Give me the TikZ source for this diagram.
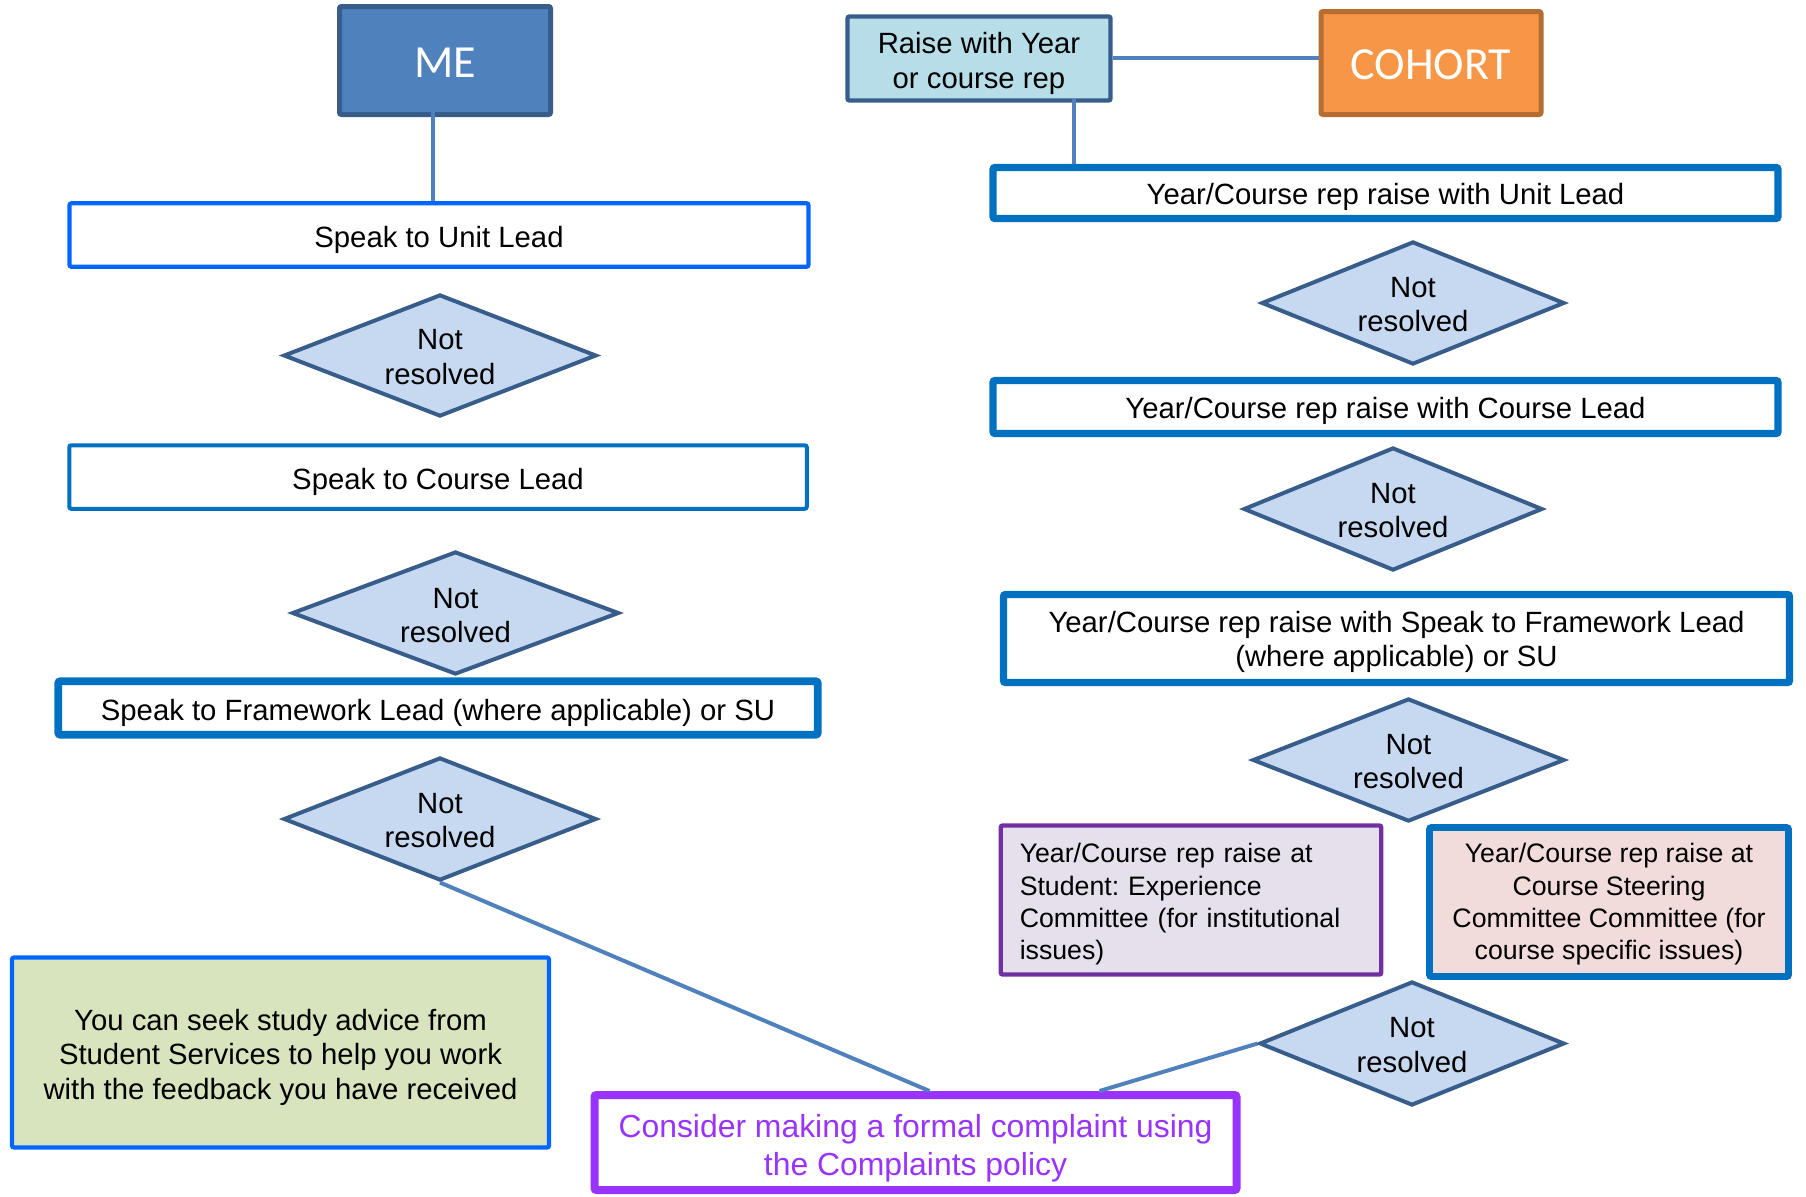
\documentclass[tikz,border=0pt]{standalone}
\usepackage{fontspec}
\setmainfont{Liberation Sans}
\newfontfamily\calibri{Carlito}
\usetikzlibrary{shapes.geometric}
\frenchspacing
\newcommand{\pxsize}{0.5pt}
\newcommand{\lift}[1]{\rule{0pt}{#1}}
\definecolor{meblue}{HTML}{4F81BD}
\definecolor{edgeblue}{HTML}{385D8A}
\definecolor{repfill}{HTML}{B7DEE8}
\definecolor{cohortfill}{HTML}{F79646}
\definecolor{cohortedge}{HTML}{B66D31}
\definecolor{brightblue}{HTML}{0066FF}
\definecolor{leadblue}{HTML}{0070C0}
\definecolor{notfill}{HTML}{C6D9F1}
\definecolor{advicefill}{HTML}{D7E4BD}
\definecolor{complaintpurple}{HTML}{9933FF}
\definecolor{sefill}{HTML}{E6E0EC}
\definecolor{seedge}{HTML}{7030A0}
\definecolor{steerfill}{HTML}{F2DCDB}

\begin{document}
\begin{tikzpicture}
\useasboundingbox (0,0) rectangle (1806*\pxsize,-1196*\pxsize);
\tikzstyle{every node}=[align=center,
			inner sep=0pt,
			font=\fontsize{14.65}{17.25}\selectfont
			]
\tikzstyle{headbox}=[draw, rectangle, rounded corners=1pt, line width=2.5pt,
			font=\calibri\fontsize{23}{26}\selectfont, text=white]
\tikzstyle{stepbox}=[draw, rectangle, rounded corners=1pt, fill=white]
\tikzstyle{notres}=[draw=edgeblue, fill=notfill, diamond, aspect=2.6, line width=2pt]
\tikzstyle{link}=[draw=meblue, line width=2pt]

% left column (ME)
\node[headbox, fill=meblue, draw=edgeblue, minimum width=211*\pxsize, minimum height=108*\pxsize] (me) at (445*\pxsize,-60.5*\pxsize) {\lift{17pt}ME};

\node[stepbox, draw=brightblue, line width=2.1pt, minimum width=739*\pxsize, minimum height=63.5*\pxsize] (unitL) at (439*\pxsize,-235*\pxsize) {\lift{15.3pt}Speak to Unit Lead};

\node[notres, minimum width=313*\pxsize, minimum height=122*\pxsize] (nrL1) at (440*\pxsize,-355.5*\pxsize) {\lift{11.8pt}Not\\resolved};

\node[stepbox, draw=leadblue, line width=2pt, minimum width=737.5*\pxsize, minimum height=63.5*\pxsize] (courseL) at (438*\pxsize,-477*\pxsize) {\lift{15.3pt}Speak to Course Lead};

\node[notres, minimum width=327*\pxsize, minimum height=123*\pxsize] (nrL2) at (455.5*\pxsize,-613*\pxsize) {\lift{12.8pt}Not\\resolved};

\node[stepbox, draw=leadblue, line width=3.8pt, minimum width=759.5*\pxsize, minimum height=53.5*\pxsize] (frameL) at (438*\pxsize,-708*\pxsize) {\lift{15.3pt}Speak to Framework Lead (where applicable) or SU};

\node[notres, minimum width=313*\pxsize, minimum height=123*\pxsize] (nrL3) at (440*\pxsize,-819*\pxsize) {\lift{11.8pt}Not\\resolved};

\node[stepbox, draw=brightblue, fill=advicefill, line width=2.1pt, minimum width=537*\pxsize, minimum height=190*\pxsize] (advice) at (280.5*\pxsize,-1052.5*\pxsize) {\lift{15.3pt}You can seek study advice from\\Student Services to help you work\\with the feedback you have received};

\node[stepbox, draw=complaintpurple, text=complaintpurple, line width=4pt, font=\fontsize{15.95}{19}\selectfont, minimum width=642*\pxsize, minimum height=95*\pxsize] (complaint) at (915.5*\pxsize,-1142.5*\pxsize) {\lift{17.4pt}Consider making a formal complaint using\\the Complaints policy};

% right column (COHORT)
\node[stepbox, draw=edgeblue, fill=repfill, line width=2.2pt, minimum width=263*\pxsize, minimum height=84*\pxsize] (rep) at (979*\pxsize,-58.5*\pxsize) {\lift{15.3pt}Raise with Year\\or course rep};

\node[headbox, fill=cohortfill, draw=cohortedge, minimum width=220*\pxsize, minimum height=103*\pxsize] (cohort) at (1431*\pxsize,-63*\pxsize) {\lift{17pt}COHORT};

\node[stepbox, draw=leadblue, line width=3.6pt, minimum width=785*\pxsize, minimum height=51*\pxsize] (unitR) at (1385.5*\pxsize,-193*\pxsize) {\lift{14.8pt}Year/Course rep raise with Unit Lead};

\node[notres, minimum width=303*\pxsize, minimum height=123*\pxsize] (nrR1) at (1413*\pxsize,-303*\pxsize) {\lift{11.8pt}Not\\resolved};

\node[stepbox, draw=leadblue, line width=3.6pt, minimum width=785*\pxsize, minimum height=53*\pxsize] (courseR) at (1385.5*\pxsize,-407*\pxsize) {\lift{14.8pt}Year/Course rep raise with Course Lead};

\node[notres, minimum width=299*\pxsize, minimum height=123*\pxsize] (nrR2) at (1393*\pxsize,-509*\pxsize) {\lift{11.8pt}Not\\resolved};

\node[stepbox, draw=leadblue, line width=3.6pt, minimum width=786*\pxsize, minimum height=88*\pxsize] (frameR) at (1396.5*\pxsize,-638.5*\pxsize) {\lift{14.2pt}Year/Course rep raise with Speak to Framework Lead\\(where applicable) or SU};

\node[notres, minimum width=312*\pxsize, minimum height=123*\pxsize] (nrR3) at (1408.5*\pxsize,-760*\pxsize) {\lift{11.8pt}Not\\resolved};

\node[stepbox, draw=seedge, fill=sefill, line width=2.2pt, align=left, inner xsep=9.5pt, text width=171.25pt, font=\fontsize{13.35}{16.1}\selectfont, minimum height=149*\pxsize] (experience) at (1191*\pxsize,-900*\pxsize) {\lift{13.9pt}Year/Course rep raise at\\Student: Experience\\Committee (for institutional\\issues)};

\node[stepbox, draw=leadblue, fill=steerfill, line width=3.4pt, font=\fontsize{13.35}{16.1}\selectfont, minimum width=359*\pxsize, minimum height=149*\pxsize] (steering) at (1609*\pxsize,-902*\pxsize) {\lift{12pt}Year/Course rep raise at\\Course Steering\\Committee Committee (for\\course specific issues)};

\node[notres, minimum width=305*\pxsize, minimum height=124*\pxsize] (nrR4) at (1412*\pxsize,-1043.5*\pxsize) {\lift{11.8pt}Not\\resolved};

% connectors
\coordinate (mefoot) at (432.5*\pxsize,-87*\pxsize);
\coordinate (repfoot) at (1073.5*\pxsize,-99*\pxsize);
\draw[link] (mefoot) -- (mefoot |- unitL.north);
\draw[link] (rep.east |- 0,-57.6*\pxsize) -- (cohort.west |- 0,-57.6*\pxsize);
\draw[link] (repfoot) -- (repfoot |- unitR.north);
\draw[link] (nrL3.south) -- ([xshift=7pt]complaint.north);
\draw[link] (nrR4.west) -- ([xshift=92pt]complaint.north);

\end{tikzpicture}
\end{document}
